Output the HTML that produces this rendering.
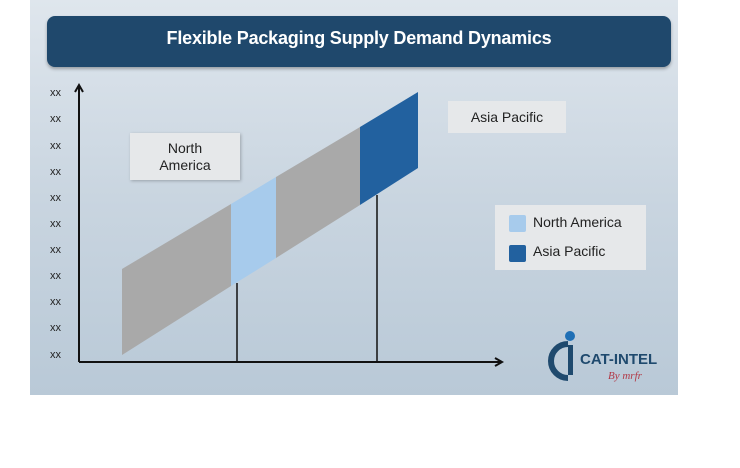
<!DOCTYPE html>
<html><head><style>
body{margin:0;width:740px;height:468px;background:#fff;position:relative;font-family:"Liberation Sans",sans-serif;overflow:hidden}
.panel{position:absolute;left:30px;top:0;width:648px;height:395px;background:linear-gradient(180deg,#dfe6ed 0%,#c9d5e0 50%,#b9c9d7 100%)}
.title{position:absolute;left:47px;top:16px;width:624px;height:51px;background:#1f486c;border-radius:8px;color:#fff;font-weight:bold;font-size:18px;letter-spacing:-0.2px;text-align:center;line-height:44px;box-shadow:0 2px 3px rgba(0,0,0,.3)}
.yl{position:absolute;left:50px;font-size:11px;color:#222}
.box{position:absolute;background:#e6e8ea;color:#222;font-size:14px;text-align:center}
</style></head><body>
<div class="panel"></div>
<div class="title">Flexible Packaging Supply Demand Dynamics</div>
<div class="yl" style="top:87px">xx</div><div class="yl" style="top:113px">xx</div><div class="yl" style="top:140px">xx</div><div class="yl" style="top:166px">xx</div><div class="yl" style="top:192px">xx</div><div class="yl" style="top:218px">xx</div><div class="yl" style="top:244px">xx</div><div class="yl" style="top:270px">xx</div><div class="yl" style="top:296px">xx</div><div class="yl" style="top:322px">xx</div><div class="yl" style="top:349px">xx</div>
<svg width="740" height="468" style="position:absolute;left:0;top:0">
<polygon points="122,269 231,204 231,286 122,355" fill="#a9a9a9"/>
<polygon points="231,204 276,177 276,258 231,286" fill="#a7cbec"/>
<polygon points="276,177 360,127 360,205 276,258" fill="#a9a9a9"/>
<polygon points="360,127 418,92 418,168 360,205" fill="#22619f"/>
<line x1="237" y1="283" x2="237" y2="362" stroke="#111" stroke-width="1.5"/>
<line x1="377" y1="195" x2="377" y2="362" stroke="#111" stroke-width="1.5"/>
<line x1="79" y1="362" x2="79" y2="86" stroke="#111" stroke-width="2"/>
<polyline points="75,92 79,85 83,92" fill="none" stroke="#111" stroke-width="2"/>
<line x1="79" y1="362" x2="501" y2="362" stroke="#111" stroke-width="2"/>
<polyline points="495,358 502,362 495,366" fill="none" stroke="#111" stroke-width="2"/>
<circle cx="570" cy="336" r="5" fill="#1f6fb5"/>
<path d="M568 344 A17 17 0 1 0 568 378" fill="none" stroke="#1f4a6e" stroke-width="6"/>
<rect x="568" y="345" width="5" height="30" fill="#1f4a6e"/>
<text x="580" y="364" font-family="Liberation Sans" font-size="15" fill="#1f4a6e" font-weight="bold">CAT-INTEL</text>
<text x="608" y="379" font-family="Liberation Serif" font-style="italic" font-size="11" fill="#b23a48">By mrfr</text>
</svg>
<div class="box" style="left:130px;top:133px;width:110px;height:47px;line-height:17px;padding-top:7px;box-sizing:border-box;box-shadow:1px 1px 3px rgba(0,0,0,.25)">North<br>America</div>
<div class="box" style="left:448px;top:101px;width:118px;height:32px;line-height:32px">Asia Pacific</div>
<div class="box" style="left:495px;top:205px;width:151px;height:65px;text-align:left">
<div style="position:absolute;left:14px;top:10px;width:17px;height:17px;background:#a7cbec;border-radius:2px"></div>
<div style="position:absolute;left:38px;top:9px">North America</div>
<div style="position:absolute;left:14px;top:40px;width:17px;height:17px;background:#22619f;border-radius:2px"></div>
<div style="position:absolute;left:38px;top:38px">Asia Pacific</div>
</div>
</body></html>
